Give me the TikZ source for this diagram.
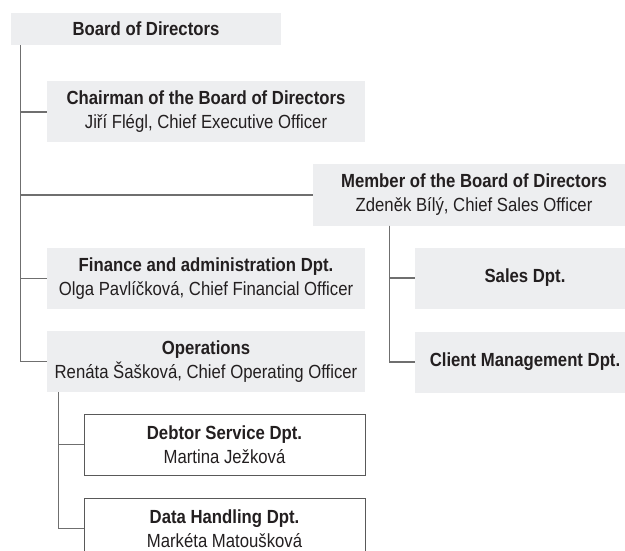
\documentclass[tikz,border=0pt]{standalone}
\usepackage{fontspec}
\setmainfont[FakeStretch=0.88]{Liberation Sans}
\usetikzlibrary{positioning}

\definecolor{boxgray}{HTML}{EDEEF0}
\definecolor{linegray}{HTML}{6F6F6F}
\definecolor{inkgray}{HTML}{231F20}

\tikzset{
    unit/.style={fill=boxgray, text=inkgray, align=center, inner sep=0pt,
        minimum height=61pt, font=\fontsize{19}{24}\selectfont},
    wideunit/.style={unit, minimum width=318pt},
    dptunit/.style={unit, minimum width=220pt, font=\fontsize{19}{24}\selectfont\bfseries},
    subunit/.style={unit, fill=white, draw=linegray!80!black, line width=0.9pt,
        minimum width=281pt},
    link/.style={draw=linegray, line width=1.3pt}
}

\begin{document}
\begin{tikzpicture}[x=1pt,y=-1pt]
    \clip (0,0) rectangle (625,551);
    \fill[white] (0,0) rectangle (625,551);

    % board and its direct reports
    \node[unit, minimum width=270pt, minimum height=32pt, font=\fontsize{19}{24}\selectfont\bfseries] (board) at (146,29) {Board of Directors};
    \node[wideunit] (chair) at (206,112) {{\bfseries Chairman of the Board of Directors}\\Jiří Flégl, Chief Executive Officer};
    \node[unit, minimum width=322pt] (member) at (474,195) {{\bfseries Member of the Board of Directors}\\Zdeněk Bílý, Chief Sales Officer};
    \node[wideunit] (finance) at (206,278.5) {{\bfseries Finance and administration Dpt.}\\Olga Pavlíčková, Chief Financial Officer};
    \node[wideunit] (ops) at (206,361.5) {{\bfseries Operations}\\Renáta Šašková, Chief Operating Officer};

    % sales side
    \node[dptunit] (sales) at (525,278) {Sales Dpt.};
    \node[dptunit] (client) at (525,362) {Client Management Dpt.};

    % operations departments
    \node[subunit] (debtor) at (224.5,444.5) {{\bfseries Debtor Service Dpt.}\\Martina Ježková};
    \node[subunit] (data) at (224.5,528.5) {{\bfseries Data Handling Dpt.}\\Markéta Matoušková};

    % connectors
    \foreach \n in {chair, member, finance, ops}
        \draw[link] ([xshift=10pt]board.south west) |- (\n.west);
    \foreach \n in {sales, client}
        \draw[link] ([xshift=77pt]member.south west) |- (\n.west);
    \foreach \n in {debtor, data}
        \draw[link] ([xshift=12pt]ops.south west) |- (\n.west);
\end{tikzpicture}
\end{document}
